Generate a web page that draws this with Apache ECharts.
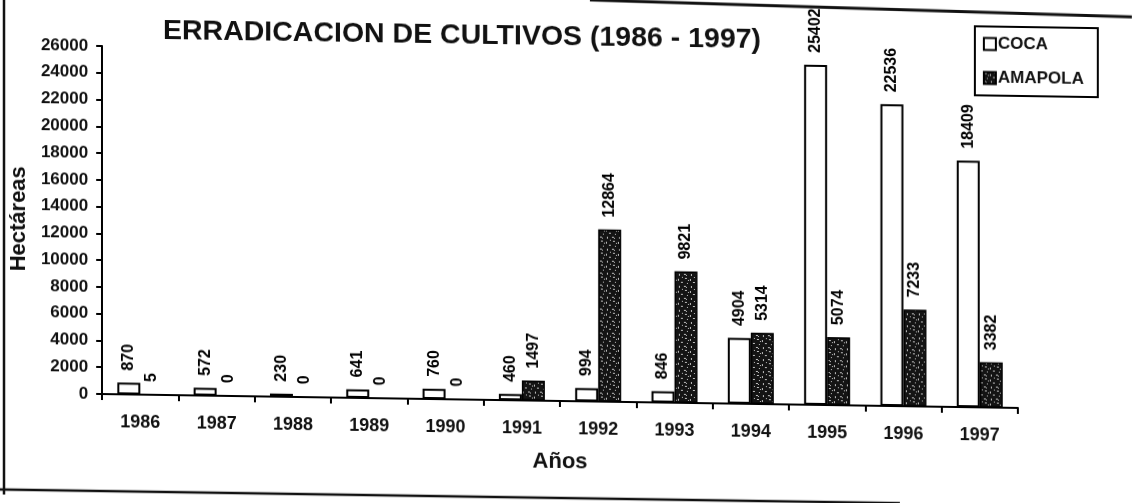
<!DOCTYPE html>
<html><head><meta charset="utf-8">
<script src="https://cdn.jsdelivr.net/npm/echarts@6/dist/echarts.min.js"></script>
<style>
html,body{margin:0;padding:0;background:#fff;overflow:hidden;width:1132px;height:503px;}
#chart{position:absolute;left:0;top:-20px;width:1132px;height:523px;transform-origin:100px 414px;transform:skewY(0.87deg);}
</style></head><body><div id="chart"></div>
<script>
const years = ['1986','1987','1988','1989','1990','1991','1992','1993','1994','1995','1996','1997'];
const coca = [870, 572, 230, 641, 760, 460, 994, 846, 4904, 25402, 22536, 18409];
const amapola = [5, 0, 0, 0, 0, 1497, 12864, 9821, 5314, 5074, 7233, 3382];
const seriesNames = ['COCA', 'AMAPOLA'];
const titleText = 'ERRADICACION DE CULTIVOS (1986 - 1997)';
const yName = 'Hectáreas';
const xName = 'Años';

function makePattern(){
  const c = document.createElement('canvas'); c.width = 12; c.height = 12;
  const g = c.getContext('2d');
  g.fillStyle = '#141414'; g.fillRect(0,0,12,12);
  g.fillStyle = 'rgba(225,225,225,0.85)';
  [[1,1,2,1],[6,2,1,2],[9,5,2,1],[3,6,1,1],[0,9,2,1],[7,9,1,2],[10,0,1,1],[4,3,1,1],[2,10,1,1]].forEach(d=>g.fillRect(d[0],d[1],d[2],d[3]));
  return c;
}
const FONT = 'Liberation Sans, Arial, sans-serif';
const labelCfg = {show:true, position:'top', rotate:90, align:'left', verticalAlign:'middle', distance:12, fontSize:16, fontWeight:'bold', color:'#000', fontFamily:FONT};

const chart = echarts.init(document.getElementById('chart'), null, {renderer:'canvas'});
chart.setOption({
  animation:false,
  backgroundColor:'#fff',
  title:{text:titleText, left:158, top:31, textStyle:{fontFamily:FONT, fontSize:28.5, fontWeight:'bold', color:'#111'}},
  legend:{orient:'vertical', left:975, top:33, data:seriesNames, icon:'rect', borderColor:'#000', borderWidth:2, padding:[9,14,9,8], itemGap:17, itemWidth:12, itemHeight:12,
    textStyle:{fontFamily:FONT, fontSize:17, fontWeight:'bold', color:'#111', padding:[0,0,0,-3]}},
  grid:{left:100, right:114, top:66, bottom:109, containLabel:false},
  xAxis:{type:'category', data:years, name:xName, nameLocation:'middle', nameGap:50,
    nameTextStyle:{fontFamily:FONT, fontSize:22, fontWeight:'bold', color:'#111'},
    axisLine:{lineStyle:{color:'#000', width:2}}, axisTick:{show:true, length:6, lineStyle:{color:'#000', width:2}},
    axisLabel:{margin:19, fontFamily:FONT, fontSize:18, fontWeight:'bold', color:'#111'}},
  yAxis:{type:'value', min:0, max:26000, interval:2000, name:yName, nameLocation:'middle', nameGap:72, nameRotate:90,
    nameTextStyle:{fontFamily:FONT, fontSize:22, fontWeight:'bold', color:'#111'},
    axisLine:{show:true, lineStyle:{color:'#000', width:2}}, axisTick:{show:true, length:6, lineStyle:{color:'#000', width:2}},
    axisLabel:{margin:14, fontFamily:FONT, fontSize:17, fontWeight:'bold', color:'#111', formatter:v=>String(v)}, splitLine:{show:false}},
  series:[
    {name:seriesNames[0], type:'bar', data:coca, barWidth:23, barGap:'0%', itemStyle:{color:'#fff', borderColor:'#000', borderWidth:2}, label:labelCfg},
    {name:seriesNames[1], type:'bar', data:amapola, barWidth:23, barGap:'0%', itemStyle:{color:{image:makePattern(), repeat:'repeat'}, borderColor:'#000', borderWidth:1.5}, label:labelCfg}
  ],
  graphic:[
    {type:'line', shape:{x1:4, y1:0, x2:4, y2:516}, style:{stroke:'#111', lineWidth:2.5}},
    {type:'line', shape:{x1:0, y1:511, x2:900, y2:511}, style:{stroke:'#111', lineWidth:2.5}},
    {type:'line', shape:{x1:590, y1:12.6, x2:1132, y2:21.3}, style:{stroke:'#111', lineWidth:3}}
  ]
});
</script></body></html>
